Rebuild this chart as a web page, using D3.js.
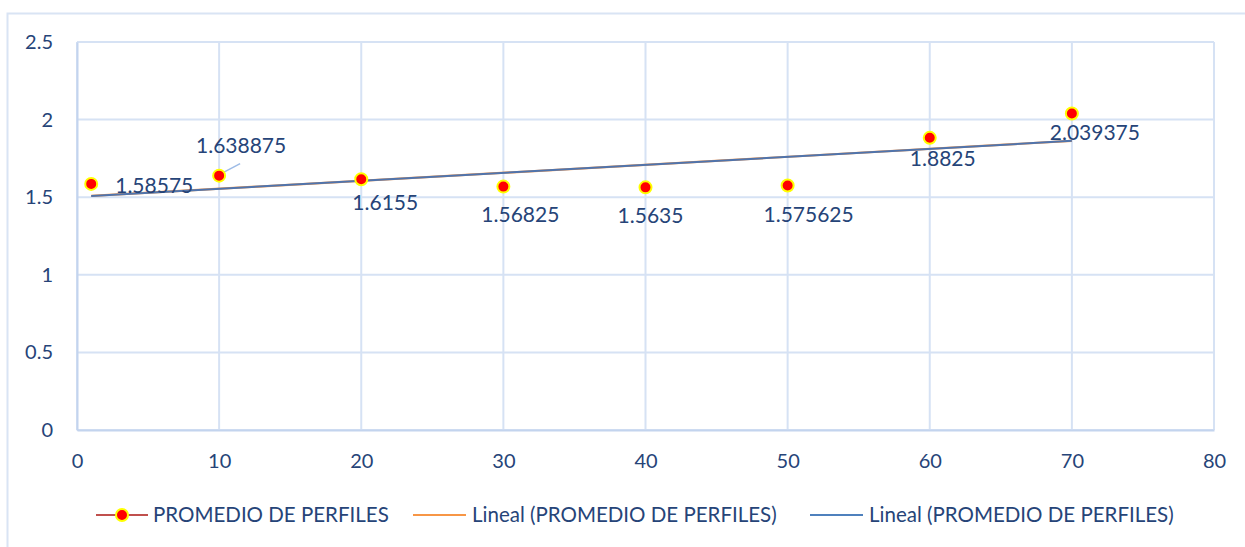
<!DOCTYPE html>
<html>
<head>
<meta charset="utf-8">
<script src="https://cdn.jsdelivr.net/npm/d3@7"></script>
<style>
  html, body { margin: 0; padding: 0; background: #fff; }
  svg { display: block; }
</style>
</head>
<body>
<div id="chart-container"></div>
<script>
// data
const xValues = [1, 10, 20, 30, 40, 50, 60, 70];
const yValues = [1.58575, 1.638875, 1.6155, 1.56825, 1.5635, 1.575625, 1.8825, 2.039375];
const labelTexts = ["1.58575", "1.638875", "1.6155", "1.56825", "1.5635", "1.575625", "1.8825", "2.039375"];
const xTicks = [0, 10, 20, 30, 40, 50, 60, 70, 80];
const yTicks = [0, 0.5, 1, 1.5, 2, 2.5];
const seriesName = "PROMEDIO DE PERFILES";
const trendNames = ["Lineal (PROMEDIO DE PERFILES)", "Lineal (PROMEDIO DE PERFILES)"];

// label offsets from each point (pixels), as they were moved in the original
const labelOffsets = [
    { dx: 24, dy: 9, anchor: "start" },
    { dx: 22, dy: -23, anchor: "middle" },
    { dx: 24, dy: 31, anchor: "middle" },
    { dx: 17, dy: 35, anchor: "middle" },
    { dx: 5, dy: 36, anchor: "middle" },
    { dx: 21, dy: 37, anchor: "middle" },
    { dx: 13, dy: 28, anchor: "middle" },
    { dx: 23, dy: 27, anchor: "middle" }
];

const width = 1245;
const height = 547;
const margin = { left: 77, right: 31, top: 42, bottom: 117 };

const textColor = "#264478";
const gridColor = "#D6E2F4";

const svg = d3.select("#chart-container")
    .append("svg")
    .attr("width", width)
    .attr("height", height)
    .attr("style", "font-family: Lato, 'Open Sans', sans-serif;");

// outer chart frame
svg.append("rect")
    .attr("x", 7.5).attr("y", 13.5)
    .attr("width", 1260).attr("height", 560)
    .attr("fill", "none")
    .attr("stroke", "#D9E4F4")
    .attr("stroke-width", 2);

const x = d3.scaleLinear().domain([0, 80]).range([margin.left, width - margin.right]);
const y = d3.scaleLinear().domain([0, 2.5]).range([height - margin.bottom, margin.top]);

// grid
const grid = svg.append("g");
grid.selectAll("line.v")
    .data(xTicks)
    .join("line")
    .attr("class", "v")
    .attr("x1", d => x(d)).attr("x2", d => x(d))
    .attr("y1", y(0)).attr("y2", y(2.5))
    .attr("stroke", gridColor)
    .attr("stroke-width", 2);
grid.selectAll("line.h")
    .data(yTicks)
    .join("line")
    .attr("class", "h")
    .attr("x1", x(0)).attr("x2", x(80))
    .attr("y1", d => y(d)).attr("y2", d => y(d))
    .attr("stroke", gridColor)
    .attr("stroke-width", 2);

// axes
const xAxis = svg.append("g")
    .attr("transform", `translate(0,${y(0)})`)
    .call(d3.axisBottom(x).tickValues(xTicks).tickSize(0).tickPadding(24).tickFormat(d3.format("d")));
const yAxis = svg.append("g")
    .attr("transform", `translate(${x(0)},0)`)
    .call(d3.axisLeft(y).tickValues(yTicks).tickSize(0).tickPadding(24).tickFormat(d => String(d)));

[xAxis, yAxis].forEach(ax => {
    ax.select(".domain").attr("stroke", "#C3D4EE").attr("stroke-width", 2);
    ax.selectAll("text")
        .attr("fill", textColor)
        .attr("font-size", 20)
        .attr("font-family", "Lato, 'Open Sans', sans-serif");
});

// linear trend (least squares) computed from the series
const mx = d3.mean(xValues);
const my = d3.mean(yValues);
const slope = d3.sum(xValues, (v, i) => (v - mx) * (yValues[i] - my)) / d3.sum(xValues, v => (v - mx) ** 2);
const intercept = my - slope * mx;
const xMin = d3.min(xValues), xMax = d3.max(xValues);
const trend = [[xMin, intercept + slope * xMin], [xMax, intercept + slope * xMax]];

const line = d3.line().x(d => x(d[0])).y(d => y(d[1]));
svg.append("path").datum(trend).attr("d", line)
    .attr("fill", "none").attr("stroke", "#F79646").attr("stroke-width", 2.2);
svg.append("path").datum(trend).attr("d", line)
    .attr("fill", "none").attr("stroke", "#4F74AD").attr("stroke-width", 2);

// leader line for the moved label at x = 10
svg.append("line")
    .attr("x1", x(xValues[1]) + 2).attr("y1", y(yValues[1]) - 2)
    .attr("x2", x(xValues[1]) + 21).attr("y2", y(yValues[1]) - 12)
    .attr("stroke", "#9DBBE6").attr("stroke-width", 1.5);

// markers
svg.append("g")
    .selectAll("circle")
    .data(xValues)
    .join("circle")
    .attr("cx", d => x(d))
    .attr("cy", (d, i) => y(yValues[i]))
    .attr("r", 6)
    .attr("fill", "#FF0000")
    .attr("stroke", "#FFFF00")
    .attr("stroke-width", 2);

// data labels
svg.append("g")
    .selectAll("text")
    .data(labelTexts)
    .join("text")
    .attr("x", (d, i) => x(xValues[i]) + labelOffsets[i].dx)
    .attr("y", (d, i) => y(yValues[i]) + labelOffsets[i].dy)
    .attr("text-anchor", (d, i) => labelOffsets[i].anchor)
    .attr("fill", textColor)
    .attr("font-size", 21)
    .text(d => d);

// legend
const legendY = 515;
const legend = svg.append("g").attr("font-size", 20.5).attr("fill", textColor);

legend.append("line")
    .attr("x1", 96).attr("x2", 148).attr("y1", legendY).attr("y2", legendY)
    .attr("stroke", "#C0504D").attr("stroke-width", 2);
legend.append("circle")
    .attr("cx", 122).attr("cy", legendY).attr("r", 6)
    .attr("fill", "#FF0000").attr("stroke", "#FFFF00").attr("stroke-width", 2);
legend.append("text")
    .attr("x", 153).attr("y", legendY + 7)
    .text(seriesName);

const trendLegend = [
    { x0: 413, color: "#F79646" },
    { x0: 810, color: "#4F81BD" }
];
trendNames.forEach((name, i) => {
    legend.append("line")
        .attr("x1", trendLegend[i].x0).attr("x2", trendLegend[i].x0 + 53)
        .attr("y1", legendY).attr("y2", legendY)
        .attr("stroke", trendLegend[i].color).attr("stroke-width", 2);
    legend.append("text")
        .attr("x", trendLegend[i].x0 + 59).attr("y", legendY + 7)
        .text(name);
});
</script>
</body>
</html>
